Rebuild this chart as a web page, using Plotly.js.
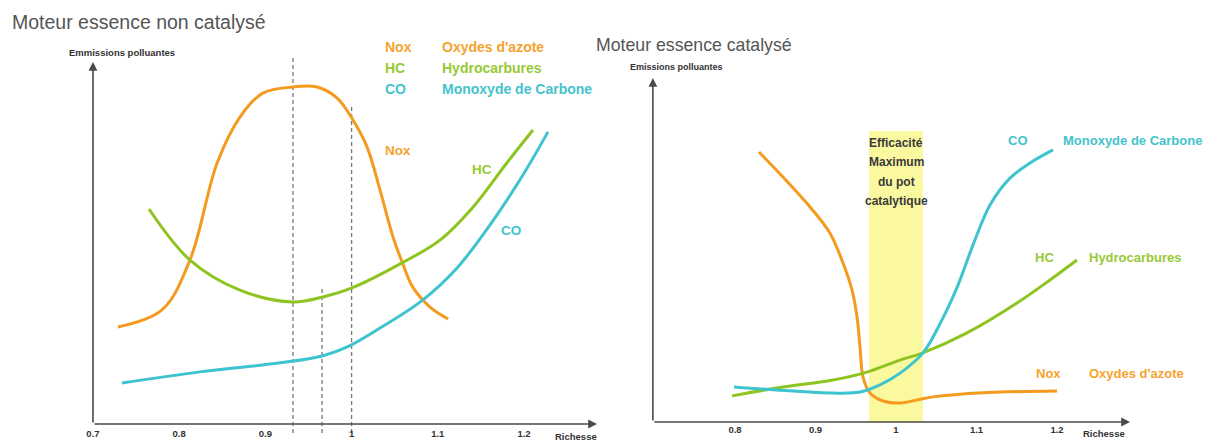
<!DOCTYPE html>
<html>
<head>
<meta charset="utf-8">
<script src="https://cdn.plot.ly/plotly-3.0.1.min.js"></script>
<style>html,body{margin:0;padding:0;background:#fff;}#chart{width:1209px;height:442px;}</style>
</head>
<body>
<div id="chart"></div>
<script>
// ---------- DATA : left chart (non catalysed engine) ----------
const leftNoxX = [0.729, 0.780, 0.8125, 0.844, 0.8705, 0.897, 0.932, 0.960, 0.983, 1.0016, 1.018, 1.033, 1.048, 1.0585, 1.071, 1.091, 1.112];
const leftNoxY = [26.8, 31.5, 45.3, 72.1, 84.8, 91.4, 93.1, 93.1, 90.1, 84.0, 76.5, 64.6, 51.7, 44.8, 37.8, 32.3, 29.0];
const leftHcX  = [0.765, 0.8125, 0.8705, 0.932, 0.967, 1.0005, 1.0585, 1.1025, 1.1408, 1.180, 1.2104];
const leftHcY  = [59.4, 45.3, 37.0, 33.7, 35.1, 37.6, 44.5, 50.8, 59.9, 72.1, 81.2];
const leftCoX  = [0.7336, 0.824, 0.917, 0.9657, 0.9993, 1.033, 1.0828, 1.1223, 1.1606, 1.1988, 1.2278];
const leftCoY  = [11.3, 14.4, 16.9, 18.8, 21.8, 26.5, 34.3, 43.1, 55.0, 68.8, 80.7];
const leftDashX    = [0.932, 0.9657, 1.0];
const leftDashTopY = [101.1, 37.6, 87.8];
const leftTickVals = [0.7, 0.8, 0.9, 1, 1.1, 1.2];
const leftTickText = ['0.7', '0.8', '0.9', '1', '1.1', '1.2'];

// ---------- DATA : right chart (catalysed engine) ----------
const rightNoxX = [0.8298, 0.8596, 0.8932, 0.918, 0.9342, 0.9453, 0.9516, 0.9553, 0.959, 0.9677, 0.9839, 1.005, 1.0261, 1.046, 1.0795, 1.1292, 1.2];
const rightNoxY = [78.5, 71.2, 62.5, 54.9, 46.2, 38.4, 30.5, 21.8, 13.1, 8.4, 6.1, 5.5, 6.4, 7.3, 8.1, 8.7, 9.0];
const rightHcX  = [0.7963, 0.8522, 0.9217, 0.964, 1.005, 1.0335, 1.0882, 1.1503, 1.1913, 1.2248];
const rightHcY  = [7.6, 9.9, 12.2, 14.5, 18.0, 20.1, 25.9, 34.6, 41.3, 47.1];
const rightCoX  = [0.7988, 0.8522, 0.9217, 0.9553, 0.9801, 1.005, 1.0335, 1.0571, 1.077, 1.0957, 1.1168, 1.1416, 1.1665, 1.195];
const rightCoY  = [10.2, 9.3, 8.4, 8.7, 10.8, 14.2, 20.1, 29.7, 39.8, 51.5, 63.1, 70.9, 75.3, 79.1];
const rightBand = [0.9665, 1.0335];
const rightBandTop = 84.6;
const rightTickVals = [0.8, 0.9, 1, 1.1, 1.2];
const rightTickText = ['0.8', '0.9', '1', '1.1', '1.2'];

// ---------- TEXTS ----------
const titles = ['Moteur essence non catalysé', 'Moteur essence catalysé'];
const yLabels = ['Emmissions polluantes', 'Emissions polluantes'];
const xLabel = 'Richesse';
const codes = ['Nox', 'HC', 'CO'];
const names = ["Oxydes d'azote", 'Hydrocarbures', 'Monoxyde de Carbone'];
const bandLines = ['Efficacité', 'Maximum', 'du pot', 'catalytique'];

// ---------- STYLE ----------
const W = 1209, H = 442;
const ORANGE = '#f49b1f', GREEN = '#8ec420', CYAN = '#3dc4cf';
const ORANGE_T = '#f5a32e', GREEN_T = '#97c935', CYAN_T = '#45c3cd';
const BOLD = "'Liberation Sans', Arial, sans-serif";
const SANS = "'Liberation Sans', Arial, sans-serif";
const AXC = '#4a4a4a';
const px = v => v / W;
const py = v => 1 - v / H;

function line(x, y, color, xa, ya) {
  return {x: x, y: y, type: 'scatter', mode: 'lines', xaxis: xa, yaxis: ya,
          line: {color: color, width: 3, shape: 'spline', smoothing: 1}, hoverinfo: 'skip', showlegend: false};
}
const data = [
  line(leftNoxX, leftNoxY, ORANGE, 'x', 'y'),
  line(leftHcX, leftHcY, GREEN, 'x', 'y'),
  line(leftCoX, leftCoY, CYAN, 'x', 'y'),
  line(rightNoxX, rightNoxY, ORANGE, 'x2', 'y2'),
  line(rightHcX, rightHcY, GREEN, 'x2', 'y2'),
  line(rightCoX, rightCoY, CYAN, 'x2', 'y2')
];

const shapes = [];
leftDashX.forEach((x, i) => shapes.push({type: 'line', xref: 'x', yref: 'y', x0: x, x1: x, y0: -2.5, y1: leftDashTopY[i],
  line: {color: '#777', width: 1.3, dash: '4px,3px'}, layer: 'below'}));
shapes.push({type: 'rect', xref: 'x2', yref: 'y2', x0: rightBand[0], x1: rightBand[1], y0: 0, y1: rightBandTop,
  fillcolor: '#fbf9a0', line: {width: 0}, layer: 'below'});

const ann = [];
function txt(x, y, text, size, color, opts) {
  ann.push(Object.assign({xref: 'paper', yref: 'paper', x: px(x), y: py(y), text: text, showarrow: false,
    xanchor: 'left', yanchor: 'middle', font: {family: BOLD, size: size, color: color, weight: 'bold'}}, opts || {}));
}
// titles
ann.push({xref: 'paper', yref: 'paper', x: px(10), y: py(22), text: titles[0], showarrow: false, xanchor: 'left', yanchor: 'middle',
  font: {family: SANS, size: 19.5, color: '#555'}});
ann.push({xref: 'paper', yref: 'paper', x: px(594), y: py(45), text: titles[1], showarrow: false, xanchor: 'left', yanchor: 'middle',
  font: {family: SANS, size: 17.7, color: '#555'}});
// y labels
txt(67, 52, yLabels[0], 9.5, '#333');
txt(628, 67, yLabels[1], 9, '#333');
// axis arrows
function arrow(xref, yref, x0, y0, x1, y1) {
  ann.push({xref: xref, yref: yref, axref: xref, ayref: yref, x: x1, y: y1, ax: x0, ay: y0, text: '',
    showarrow: true, arrowhead: 2, arrowsize: 1.1, arrowwidth: 1.6, arrowcolor: AXC, standoff: 0, startstandoff: 0});
}
arrow('x', 'y', 0.7, 0, 0.7, 100);
arrow('x', 'y', 0.7, 0, 1.2847, 0);
arrow('x2', 'y2', 0.698, 0, 0.698, 100);
arrow('x2', 'y2', 0.698, 0, 1.2907, 0);
// Richesse
ann.push({xref: 'x', yref: 'y', x: 1.2603, y: -3.4, text: xLabel, showarrow: false, xanchor: 'center', yanchor: 'middle',
  font: {family: BOLD, size: 9.5, color: '#333', weight: 'bold'}});
ann.push({xref: 'x2', yref: 'y2', x: 1.2584, y: -3.3, text: xLabel, showarrow: false, xanchor: 'center', yanchor: 'middle',
  font: {family: BOLD, size: 9.5, color: '#333', weight: 'bold'}});
// left legend
const tcols = [ORANGE_T, GREEN_T, CYAN_T];
[47, 68, 89].forEach((y, i) => { txt(383, y, codes[i], 14, tcols[i]); txt(440, y, names[i], 14, tcols[i]); });
// left curve labels
txt(383, 150, codes[0], 13.5, ORANGE_T);
txt(470, 170, codes[1], 13.5, GREEN_T);
txt(499, 230, codes[2], 13.5, CYAN_T);
// right legend labels
txt(1006, 140, codes[2], 13, CYAN_T); txt(1061, 140, names[2], 13, CYAN_T);
txt(1033, 257, codes[1], 13, GREEN_T); txt(1087, 257, names[1], 13, GREEN_T);
txt(1034, 373, codes[0], 13, ORANGE_T); txt(1087, 373, names[0], 13, ORANGE_T);
// band text, one line at a time
[143, 162, 182, 201].forEach((y, i) => txt(896, y, bandLines[i], 12, '#3a3a3a', {xanchor: 'center'}));

const tickFont = {family: BOLD, size: 9.5, color: '#333', weight: 'bold'};
const layout = {
  width: W, height: H, margin: {l: 0, r: 0, t: 0, b: 0}, paper_bgcolor: '#fff', plot_bgcolor: 'rgba(0,0,0,0)',
  showlegend: false,
  xaxis: {domain: [58.5 / W, 610.2 / W], range: [0.66, 1.30], anchor: 'free', position: 18 / H,
          tickvals: leftTickVals, ticktext: leftTickText, ticks: '', showgrid: false, zeroline: false, showline: false,
          tickfont: tickFont, ticklabelstandoff: 2, fixedrange: true},
  yaxis: {domain: [0, 1], range: [-4.9724, 117.127], visible: false, fixedrange: true},
  xaxis2: {domain: [630.35 / W, 1145.55 / W], range: [0.67, 1.31], anchor: 'free', position: 20 / H,
          tickvals: rightTickVals, ticktext: rightTickText, ticks: '', showgrid: false, zeroline: false, showline: false,
          tickfont: tickFont, fixedrange: true},
  yaxis2: {domain: [0, 1], range: [-5.814, 122.674], visible: false, fixedrange: true},
  shapes: shapes,
  annotations: ann
};
Plotly.newPlot('chart', data, layout, {displayModeBar: false, staticPlot: true});
</script>
</body>
</html>
